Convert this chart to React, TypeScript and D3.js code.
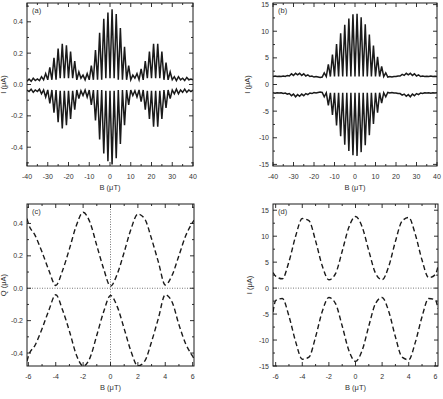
import React from 'react';
import * as d3 from 'd3';

const W = 443;
const H = 399;

// field sweep shared by (a) and (b), in uT
const sweepField = [
  -40, -39, -38, -37, -36, -35, -34, -33, -32, -31, -30, -29, -28, -27, -26, -25, -24, -23, -22, -21,
  -20, -19, -18, -17, -16, -15, -14, -13, -12, -11, -10, -9, -8, -7, -6, -5, -4, -3, -2, -1,
  0, 1, 2, 3, 4, 5, 6, 7, 8, 9, 10, 11, 12, 13, 14, 15, 16, 17, 18, 19,
  20, 21, 22, 23, 24, 25, 26, 27, 28, 29, 30, 31, 32, 33, 34, 35, 36, 37, 38, 39, 40,
];

// (a)
const aUpper = [
  0.02, 0.035, 0.02, 0.04, 0.025, 0.035, 0.025, 0.05, 0.03, 0.07, 0.03, 0.11, 0.03, 0.17, 0.03, 0.23, 0.04, 0.26, 0.04, 0.25,
  0.04, 0.21, 0.04, 0.15, 0.03, 0.08, 0.04, 0.06, 0.03, 0.07, 0.03, 0.12, 0.03, 0.22, 0.03, 0.33, 0.03, 0.42, 0.04, 0.46,
  0.04, 0.48, 0.04, 0.45, 0.03, 0.36, 0.03, 0.24, 0.03, 0.12, 0.03, 0.06, 0.04, 0.07, 0.03, 0.10, 0.03, 0.15, 0.04, 0.21,
  0.04, 0.26, 0.04, 0.26, 0.04, 0.21, 0.03, 0.14, 0.03, 0.08, 0.03, 0.05, 0.025, 0.05, 0.03, 0.04, 0.025, 0.045, 0.03, 0.035, 0.03,
];
const aLower = [
  -0.035, -0.045, -0.03, -0.05, -0.035, -0.045, -0.03, -0.06, -0.035, -0.08, -0.035, -0.12, -0.035, -0.18, -0.035, -0.24, -0.04, -0.28, -0.04, -0.26,
  -0.04, -0.22, -0.04, -0.16, -0.035, -0.09, -0.04, -0.07, -0.035, -0.08, -0.035, -0.13, -0.035, -0.23, -0.035, -0.35, -0.035, -0.44, -0.04, -0.49,
  -0.04, -0.51, -0.04, -0.47, -0.035, -0.38, -0.035, -0.26, -0.035, -0.13, -0.035, -0.07, -0.04, -0.08, -0.035, -0.11, -0.035, -0.16, -0.04, -0.22,
  -0.04, -0.27, -0.04, -0.27, -0.04, -0.22, -0.035, -0.15, -0.035, -0.09, -0.035, -0.06, -0.03, -0.06, -0.035, -0.05, -0.03, -0.05, -0.035, -0.045, -0.035,
];

// (b)
const bUpper = [
  1.5, 1.6, 1.5, 1.55, 1.5, 1.6, 1.5, 1.7, 1.6, 2.0, 1.7, 2.1, 1.8, 2.1, 1.7, 2.0, 1.6, 1.8, 1.5, 1.6,
  1.4, 1.5, 1.4, 1.3, 1.4, 2.2, 1.5, 3.8, 1.5, 5.6, 1.5, 7.6, 1.5, 9.6, 1.5, 11.2, 1.5, 12.4, 1.5, 13.2,
  1.5, 13.3, 1.5, 12.6, 1.5, 11.3, 1.5, 9.4, 1.5, 7.3, 1.5, 5.2, 1.5, 3.4, 1.5, 2.2, 1.4, 1.5, 1.4, 1.5,
  1.5, 1.6, 1.6, 1.9, 1.7, 2.1, 1.8, 2.1, 1.7, 2.0, 1.6, 1.8, 1.5, 1.6, 1.5, 1.55, 1.5, 1.6, 1.5, 1.55, 1.5,
];
const bLower = [
  -1.55, -1.65, -1.55, -1.6, -1.55, -1.7, -1.6, -1.8, -1.7, -2.1, -1.8, -2.3, -1.9, -2.2, -1.8, -2.1, -1.7, -1.9, -1.6, -1.7,
  -1.5, -1.6, -1.5, -1.4, -1.5, -2.3, -1.55, -3.9, -1.55, -5.7, -1.55, -7.7, -1.55, -9.7, -1.55, -11.3, -1.55, -12.5, -1.55, -13.3,
  -1.55, -13.4, -1.55, -12.7, -1.55, -11.4, -1.55, -9.5, -1.55, -7.4, -1.55, -5.3, -1.55, -3.5, -1.55, -2.3, -1.5, -1.6, -1.5, -1.6,
  -1.6, -1.7, -1.7, -2.0, -1.8, -2.2, -1.9, -2.3, -1.8, -2.1, -1.7, -1.9, -1.6, -1.7, -1.55, -1.6, -1.55, -1.65, -1.55, -1.6, -1.55,
];

// (c)
const cField = [-6.1, -6, -5.5, -5, -4.5, -4, -3.5, -3, -2.5, -2, -1.5, -1, -0.5, 0, 0.5, 1, 1.5, 2, 2.5, 3, 3.5, 4, 4.5, 5, 5.5, 6, 6.1];
const cUpper = [0.43, 0.40, 0.325, 0.223, 0.11, 0.017, 0.11, 0.243, 0.386, 0.469, 0.407, 0.263, 0.12, 0.013, 0.089, 0.223, 0.366, 0.458, 0.428, 0.305, 0.161, 0.02, 0.08, 0.202, 0.325, 0.407, 0.42];
const cLower = [-0.45, -0.42, -0.35, -0.25, -0.135, -0.04, -0.135, -0.265, -0.41, -0.48, -0.43, -0.29, -0.145, -0.045, -0.115, -0.25, -0.39, -0.48, -0.45, -0.33, -0.185, -0.04, -0.085, -0.225, -0.345, -0.42, -0.435];

// (d)
const dField = [-6.2, -6, -5.5, -5, -4.5, -4, -3.5, -3, -2.5, -2, -1.5, -1, -0.5, 0, 0.5, 1, 1.5, 2, 2.5, 3, 3.5, 4, 4.5, 5, 5.5, 6, 6.2];
const dUpper = [3.0, 2.3, 1.8, 5.1, 10.0, 13.4, 13.0, 9.1, 4.3, 1.6, 2.8, 7.1, 11.7, 13.8, 11.8, 7.2, 2.9, 1.6, 4.2, 9.0, 12.9, 13.6, 10.3, 5.4, 2.0, 2.6, 4.2];
const dLower = [-4.6, -2.4, -2.0, -5.4, -10.3, -13.7, -13.3, -9.4, -4.5, -1.8, -3.0, -7.3, -12.0, -14.1, -12.0, -7.3, -3.0, -1.8, -4.5, -9.4, -13.3, -13.8, -10.4, -5.5, -2.0, -2.3, -4.0];

// tick labels
const abXTicks = [-40, -30, -20, -10, 0, 10, 20, 30, 40];
const acYTicks = [-0.4, -0.2, 0, 0.2, 0.4];
const bdYTicks = [-15, -10, -5, 0, 5, 10, 15];
const cdXTicks = [-6, -4, -2, 0, 2, 4, 6];

const FONT = '"Liberation Sans", Arial, sans-serif';
const INK = '#1a1a1a';

type Line = { x: number[]; y: number[]; dash?: string; width: number; smooth?: boolean };

type PanelProps = {
  x0: number; y0: number; w: number; h: number;
  xDomain: [number, number]; yDomain: [number, number];
  xTicks: number[]; xMinor: number[]; yTicks: number[]; yMinor: number[];
  yFmt: (v: number) => string;
  xTitle: React.ReactNode; yTitle: React.ReactNode; yTitleX: number; tag: string;
  lines: Line[];
  hZero?: boolean; vZero?: boolean;
};

function Panel(p: PanelProps) {
  const x = d3.scaleLinear().domain(p.xDomain).range([p.x0, p.x0 + p.w]);
  const y = d3.scaleLinear().domain(p.yDomain).range([p.y0 + p.h, p.y0]);
  const bottom = p.y0 + p.h;
  const right = p.x0 + p.w;
  const clipId = 'clip-' + p.tag.replace(/[()]/g, '');

  const tickX = (v: number, len: number, k: string) => (
    <g key={k}>
      <line x1={x(v)} x2={x(v)} y1={bottom} y2={bottom - len} stroke={INK} strokeWidth={0.9} />
      <line x1={x(v)} x2={x(v)} y1={p.y0} y2={p.y0 + len} stroke={INK} strokeWidth={0.9} />
    </g>
  );
  const tickY = (v: number, len: number, k: string) => (
    <g key={k}>
      <line x1={p.x0} x2={p.x0 + len} y1={y(v)} y2={y(v)} stroke={INK} strokeWidth={0.9} />
      <line x1={right} x2={right - len} y1={y(v)} y2={y(v)} stroke={INK} strokeWidth={0.9} />
    </g>
  );

  return (
    <g>
      <defs>
        <clipPath id={clipId}>
          <rect x={p.x0} y={p.y0} width={p.w} height={p.h} />
        </clipPath>
      </defs>
      <g clipPath={`url(#${clipId})`}>
        {p.hZero && (
          <line x1={p.x0} x2={right} y1={y(0)} y2={y(0)} stroke="#777" strokeWidth={1} strokeDasharray="1,1.5" />
        )}
        {p.vZero && (
          <line x1={x(0)} x2={x(0)} y1={p.y0} y2={bottom} stroke="#777" strokeWidth={1} strokeDasharray="1,1.5" />
        )}
        {p.lines.map((l, i) => {
          const gen = d3
            .line<number>()
            .x((_, j) => x(l.x[j]))
            .y((d) => y(d))
            .curve(l.smooth ? d3.curveMonotoneX : d3.curveLinear);
          return (
            <path key={i} d={gen(l.y) || ''} fill="none" stroke={INK} strokeWidth={l.width}
              strokeDasharray={l.dash} strokeLinejoin="miter" />
          );
        })}
      </g>
      <rect x={p.x0} y={p.y0} width={p.w} height={p.h} fill="none" stroke={INK} strokeWidth={1} />
      {p.xMinor.map((v, i) => tickX(v, 2, 'xm' + i))}
      {p.xTicks.map((v, i) => tickX(v, 4, 'xM' + i))}
      {p.yMinor.map((v, i) => tickY(v, 2, 'ym' + i))}
      {p.yTicks.map((v, i) => tickY(v, 4, 'yM' + i))}
      {p.xTicks.map((v, i) => (
        <text key={'xl' + i} x={x(v)} y={bottom + 13} textAnchor="middle" fontSize={7} fill="#333" fontFamily={FONT}>
          {String(v)}
        </text>
      ))}
      {p.yTicks.map((v, i) => (
        <text key={'yl' + i} x={p.x0 - 4} y={y(v) + 2.5} textAnchor="end" fontSize={7} fill="#333" fontFamily={FONT}>
          {p.yFmt(v)}
        </text>
      ))}
      <text x={p.x0 + p.w / 2} y={bottom + 24} textAnchor="middle" fontSize={7.5} fill="#333" fontFamily={FONT}>
        {p.xTitle}
      </text>
      <text transform={`translate(${p.yTitleX},${p.y0 + p.h / 2}) rotate(-90)`} textAnchor="middle" fontSize={7.5}
        fill="#333" fontFamily={FONT}>
        {p.yTitle}
      </text>
      <text x={p.x0 + 5} y={p.y0 + 10} fontSize={7.5} fill="#333" fontFamily={FONT}>
        {p.tag}
      </text>
    </g>
  );
}

const f1 = (v: number) => v.toFixed(1);
const f0 = (v: number) => String(v);

export default function App() {
  const L = 27, R = 273, PW = 166;
  const T = 3, B = 204, PH = 163;
  return (
    <svg width={W} height={H} style={{ position: 'absolute', left: 0, top: 0, background: '#fff' }}>
      <rect width={W} height={H} fill="#fff" />
      <Panel x0={L} y0={T} w={PW} h={PH} xDomain={[-40, 40]} yDomain={[-0.52, 0.52]}
        xTicks={abXTicks} xMinor={d3.range(-35, 40, 10)} yTicks={acYTicks} yMinor={[-0.5, -0.3, -0.1, 0.1, 0.3, 0.5]}
        yFmt={f1} xTitle="B (μT)" yTitle="I (μA)" yTitleX={6} tag="(a)"
        lines={[
          { x: sweepField, y: aUpper, width: 1.5 },
          { x: sweepField, y: aLower, width: 1.5 },
        ]} />
      <Panel x0={R} y0={T} w={PW - 2} h={PH} xDomain={[-40, 40]} yDomain={[-15.3, 15.3]}
        xTicks={abXTicks} xMinor={d3.range(-35, 40, 10)} yTicks={bdYTicks} yMinor={[-12.5, -7.5, -2.5, 2.5, 7.5, 12.5]}
        yFmt={f0} xTitle="B (μT)" yTitle="I (μA)" yTitleX={250} tag="(b)"
        lines={[
          { x: sweepField, y: bUpper, width: 1.5 },
          { x: sweepField, y: bLower, width: 1.5 },
        ]} />
      <Panel x0={L} y0={B} w={PW + 1} h={PH - 1} xDomain={[-6.1, 6.1]} yDomain={[-0.48, 0.52]}
        xTicks={cdXTicks} xMinor={d3.range(-5, 6, 2)} yTicks={acYTicks} yMinor={[-0.3, -0.1, 0.1, 0.3, 0.5]}
        yFmt={f1} xTitle="B (μT)" yTitle="Q (μA)" yTitleX={6} tag="(c)" hZero vZero
        lines={[
          { x: cField, y: cUpper, width: 1.4, dash: '5,3', smooth: true },
          { x: cField, y: cLower, width: 1.4, dash: '5,3', smooth: true },
        ]} />
      <Panel x0={R} y0={B} w={PW - 1} h={PH - 1} xDomain={[-6.2, 6.2]} yDomain={[-15, 16.2]}
        xTicks={cdXTicks} xMinor={d3.range(-5, 6, 2)} yTicks={bdYTicks} yMinor={[-12.5, -7.5, -2.5, 2.5, 7.5, 12.5]}
        yFmt={f0} xTitle="B (μT)" yTitle="I (μA)" yTitleX={252} tag="(d)" hZero
        lines={[
          { x: dField, y: dUpper, width: 1.4, dash: '5,3', smooth: true },
          { x: dField, y: dLower, width: 1.4, dash: '5,3', smooth: true },
        ]} />
    </svg>
  );
}
